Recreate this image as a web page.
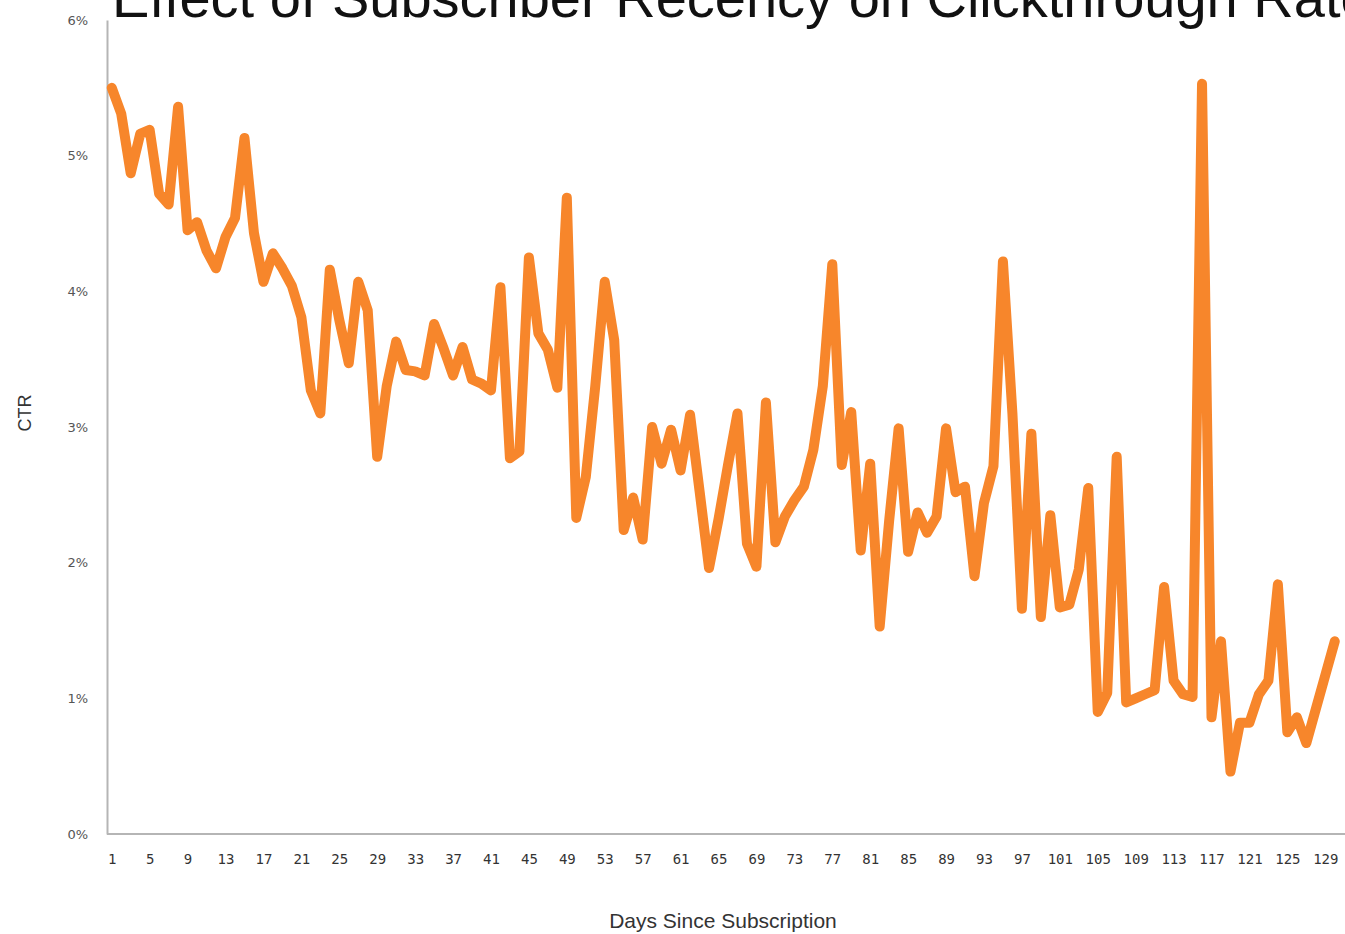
<!DOCTYPE html>
<html>
<head>
<meta charset="utf-8">
<script src="https://cdn.jsdelivr.net/npm/d3@7"></script>
<style>
  body { margin: 0; background: #fff; overflow: hidden; }
</style>
</head>
<body>
<script>
const width = 1345;
const height = 934;

// CTR in percent, one value per day since subscription (day 1 .. 130)
const ctr = [
  5.50, 5.31, 4.87, 5.16, 5.19, 4.72, 4.64, 5.36, 4.45, 4.51,
  4.30, 4.17, 4.40, 4.54, 5.13, 4.43, 4.07, 4.28, 4.17, 4.04,
  3.81, 3.27, 3.10, 4.16, 3.79, 3.47, 4.07, 3.86, 2.78, 3.30,
  3.63, 3.42, 3.41, 3.38, 3.76, 3.58, 3.38, 3.59, 3.35, 3.32,
  3.27, 4.03, 2.77, 2.82, 4.25, 3.69, 3.57, 3.29, 4.69, 2.33,
  2.63, 3.30, 4.07, 3.64, 2.24, 2.48, 2.17, 3.00, 2.73, 2.98,
  2.68, 3.09, 2.53, 1.96, 2.32, 2.72, 3.10, 2.14, 1.97, 3.18,
  2.15, 2.34, 2.46, 2.56, 2.83, 3.30, 4.20, 2.72, 3.11, 2.09,
  2.73, 1.53, 2.31, 2.99, 2.08, 2.37, 2.22, 2.34, 2.99, 2.52,
  2.56, 1.90, 2.44, 2.71, 4.22, 3.10, 1.66, 2.95, 1.60, 2.35,
  1.67, 1.69, 1.95, 2.55, 0.90, 1.04, 2.78, 0.97, 1.00, 1.03,
  1.06, 1.82, 1.13, 1.03, 1.01, 5.53, 0.86, 1.42, 0.46, 0.82,
  0.82, 1.03, 1.13, 1.84, 0.75, 0.86, 0.67, 0.92, 1.17, 1.42
];

const days = ctr.map((v, i) => i + 1);

const xTicks = [1, 5, 9, 13, 17, 21, 25, 29, 33, 37, 41, 45, 49, 53, 57, 61, 65,
  69, 73, 77, 81, 85, 89, 93, 97, 101, 105, 109, 113, 117, 121, 125, 129];
const yTicks = [0, 1, 2, 3, 4, 5, 6];

const titleText = "Effect of Subscriber Recency on Clickthrough Rate";
const xLabel = "Days Since Subscription";
const yLabel = "CTR";

let svg = d3
  .select("body")
  .append("svg")
  .attr("width", width)
  .attr("height", height);

let xScale = d3
  .scaleLinear()
  .domain([0.5, days.length + 0.5])
  .range([107, 1339.5]);

let yScale = d3
  .scaleLinear()
  .domain([0, 6])
  .range([834, 20]);

// title, cut off by the top and right edges like the original
svg
  .append("text")
  .text(titleText)
  .attr("x", 112)
  .attr("y", 17)
  .style("font-family", "'Liberation Sans', Arial, sans-serif")
  .style("font-size", "56px")
  .style("fill", "#111");

// left axis: line + percent labels
let leftAxis = d3
  .axisLeft(yScale)
  .tickValues(yTicks)
  .tickFormat((d) => d + "%")
  .tickSize(0)
  .tickPadding(19);

let leftContainer = svg
  .append("g")
  .attr("transform", `translate(${xScale(0.5)}, 0)`)
  .call(leftAxis);

leftContainer.select(".domain").attr("stroke", "#b5b5b5").attr("stroke-width", 2);
leftContainer
  .selectAll("text")
  .style("font-family", "'DejaVu Sans', Verdana, sans-serif")
  .style("font-size", "13px")
  .style("fill", "#555");

// bottom axis: labels every 4 days
let bottomAxis = d3
  .axisBottom(xScale)
  .tickValues(xTicks)
  .tickSize(0)
  .tickPadding(20);

let bottomContainer = svg
  .append("g")
  .attr("transform", `translate(0, ${yScale(0)})`)
  .call(bottomAxis);

bottomContainer.select(".domain").remove();
bottomContainer
  .selectAll("text")
  .style("font-family", "'DejaVu Sans Mono', monospace")
  .style("font-size", "14px")
  .style("fill", "#333");

svg
  .append("line")
  .attr("x1", xScale(0.5))
  .attr("x2", width)
  .attr("y1", yScale(0))
  .attr("y2", yScale(0))
  .attr("stroke", "#b5b5b5")
  .attr("stroke-width", 2);

// axis titles
svg
  .append("text")
  .text(xLabel)
  .attr("x", 723)
  .attr("y", 928)
  .attr("text-anchor", "middle")
  .style("font-family", "'Liberation Sans', Arial, sans-serif")
  .style("font-size", "21px")
  .style("fill", "#333");

svg
  .append("text")
  .text(yLabel)
  .attr("text-anchor", "middle")
  .attr("transform", `translate(31, 413) rotate(270)`)
  .style("font-family", "'Liberation Sans', Arial, sans-serif")
  .style("font-size", "18px")
  .style("fill", "#333");

// the CTR line
let line = d3
  .line()
  .x((d, i) => xScale(days[i]))
  .y((d) => yScale(d));

svg
  .append("path")
  .datum(ctr)
  .attr("d", line)
  .attr("fill", "none")
  .attr("stroke", "#f7862b")
  .attr("stroke-width", 10)
  .attr("stroke-linejoin", "round")
  .attr("stroke-linecap", "round");
</script>
</body>
</html>
